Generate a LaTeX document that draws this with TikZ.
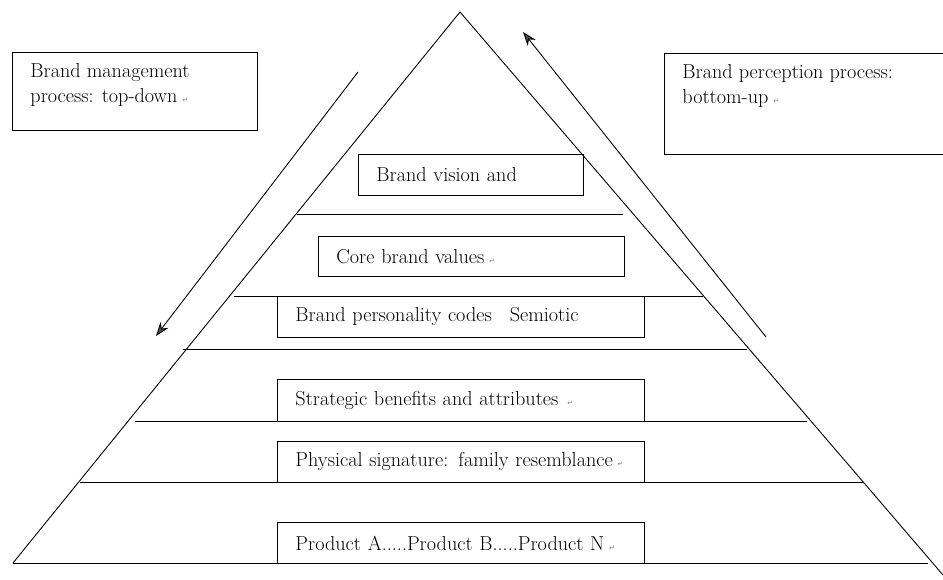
\documentclass[tikz,border=0pt]{standalone}
\usepackage{fontspec}
\newfontfamily\symfont{DejaVu Sans}
\usetikzlibrary{arrows.meta}
\newcommand\retmark{\hspace{5pt}{\symfont\fontsize{7}{7}\selectfont\color{gray}↵}}
\begin{document}
\begin{tikzpicture}[x=1pt,y=-1pt,line width=0.9pt,
  txtfont/.style={font=\fontsize{20.2}{25.5}\selectfont},
  frame/.style={draw,line width=0.9pt,rectangle,inner sep=0pt,anchor=north west},
  lvl/.style={draw,line width=0.9pt,rectangle,anchor=north west,inner xsep=18pt,inner ysep=0pt,align=left,txtfont},
  plain/.style={anchor=north west,inner sep=0pt,align=left,txtfont},
  divider/.style={line width=0.9pt},
  flow/.style={line width=0.9pt,-{Stealth[length=14pt,width=10pt,fill=black!70]}}]
\clip (0,0) rectangle (943,580);
\fill[white] (0,0) rectangle (943,580);

% pyramid outline
\coordinate (apex) at (460,12);
\coordinate (bl) at (13,563);
\coordinate (br) at (943,575);
\coordinate (bend) at (928,563);
\draw (bl) -- (apex) -- (br);
\draw[divider] (bl) -- (bend);

% dividers
\coordinate (l1a) at (297,214); \coordinate (l1b) at (623,214);
\coordinate (l2a) at (234,296); \coordinate (l2b) at (703,296);
\coordinate (l3a) at (183,349); \coordinate (l3b) at (747,349);
\coordinate (l4a) at (135,421); \coordinate (l4b) at (807,421);
\coordinate (l5a) at (80,482);  \coordinate (l5b) at (863,482);
\draw[divider] (l1a) -- (l1b);
\draw[divider] (l2a) -- (l2b);
\draw[divider] (l3a) -- (l3b);
\draw[divider] (l4a) -- (l4b);
\draw[divider] (l5a) -- (l5b);

% level boxes
\node[lvl,text width=189pt,minimum height=41pt] (b1) at (358,154) {Brand vision and};
\node[lvl,text width=270pt,minimum height=40pt] (b2) at (318,236) {Core brand values\retmark};
\node[lvl,text width=331pt,minimum height=41pt] (b3) at (277,296) {Brand personality codes\hspace{18pt}Semiotic};
\node[lvl,text width=331pt,minimum height=42pt] (b4) at (277,379) {Strategic benefits and attributes\hspace{4pt}\retmark};
\node[lvl,text width=331pt,minimum height=41pt] (b5) at (277,441) {Physical signature: family resemblance\retmark};
\node[lvl,text width=331pt,minimum height=41pt] (b6) at (277,522) {Product A.....Product B.....Product N\retmark};

% side boxes
\node[frame,minimum width=245pt,minimum height=78pt] (lbox) at (12,52) {};
\node[plain] (ltext) at ([xshift=18pt,yshift=-11pt]lbox.north west) {Brand management\\process: top-down\retmark};
\node[frame,minimum width=290pt,minimum height=101pt] (rbox) at (664,53) {};
\node[plain] (rtext) at ([xshift=18pt,yshift=-11pt]rbox.north west) {Brand perception process:\\bottom-up\retmark};

% process arrows
\coordinate (a1s) at (358,72);
\coordinate (a1e) at (156,336);
\coordinate (a2s) at (766,337);
\coordinate (a2e) at (523,32);
\draw[flow] (a1s) -- (a1e);
\draw[flow] (a2s) -- (a2e);
\end{tikzpicture}
\end{document}
